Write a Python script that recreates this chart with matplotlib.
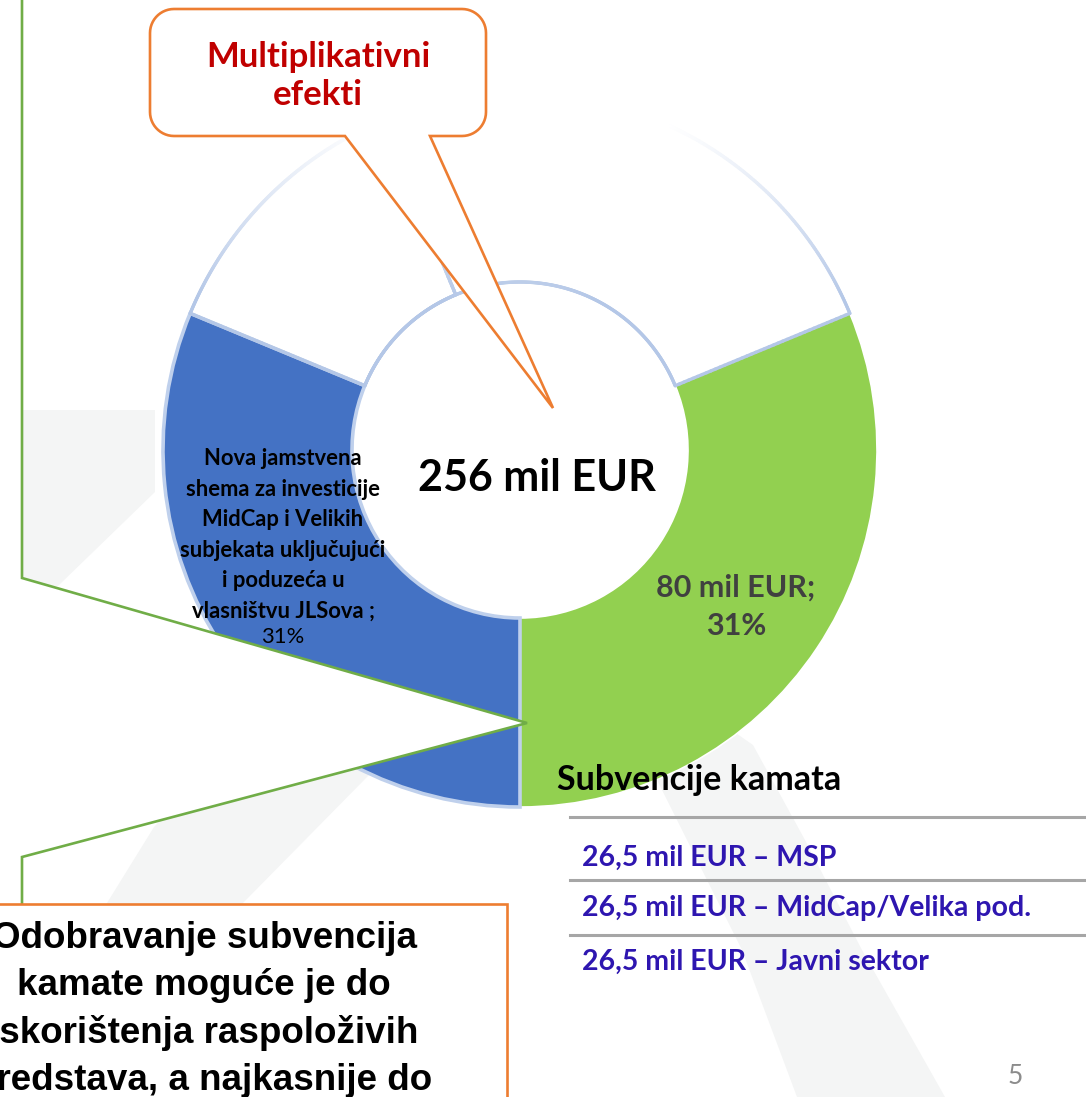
import numpy as np
import matplotlib.pyplot as plt
from matplotlib.patches import Polygon, Rectangle
from matplotlib.collections import LineCollection
from matplotlib.colors import to_rgb

# slide size in pixels
W, H = 1086, 1097

# donut: mil EUR, counter-clockwise from 6 o'clock
donut_names = ['Subvencije kamata', 'ostalo 1', 'ostalo 2',
               'Nova jamstvena\nshema za investicije\nMidCap i Velikih\nsubjekata uključujući\ni poduzeća u\nvlasništvu JLSova']
donut_values = [80, 64, 32, 80]
donut_colors = ['#92D050', '#FFFFFF', '#FFFFFF', '#4472C4']

# interest subsidy table
subsidy_amounts = ['26,5', '26,5', '26,5']
subsidy_groups = ['MSP', 'MidCap/Velika pod.', 'Javni sektor']

callout_top = 'Multiplikativni\nefekti'
note_lines = ['Odobravanje subvencija', 'kamate moguće je do',
              'iskorištenja raspoloživih', 'sredstava, a najkasnije do']
page_no = '5'

EDGE = '#B4C7E7'
ORANGE = '#ED7D31'
GREEN_LINE = '#70AD47'
WM = '#F4F5F5'


def py(y):
    # pixel row (from top) -> data y
    return H - y


def pts(seq):
    return [(x, py(y)) for x, y in seq]


fig = plt.figure(figsize=(W / 100, H / 100), dpi=100)
ax = fig.add_axes([0, 0, 1, 1])

# faint watermark shapes behind everything
ax.add_patch(Polygon(pts([(22, 410), (155, 410), (155, 492), (58, 586), (22, 586)]),
                     closed=True, fc=WM, ec='none', zorder=0))
band = [(60, 1000), (107, 903), (154, 827), (230, 745), (360, 680), (520, 650),
        (660, 680), (753, 745), (805, 840), (862, 950), (945, 1097),
        (797, 1097), (742, 950), (692, 850), (647, 760), (560, 720),
        (450, 730), (371, 773), (243, 903), (200, 1000)]
ax.add_patch(Polygon(pts(band), closed=True, fc=WM, ec='none', zorder=0))

# donut
cx, cy = 520, py(450)
r_out, r_in = 357, 168
wedges, _ = ax.pie(donut_values, colors=donut_colors, startangle=-90, counterclock=True,
                   center=(cx, cy), radius=r_out, frame=True,
                   wedgeprops=dict(width=r_out - r_in, linewidth=0))
for w in wedges:
    w.set_zorder(2)
wedges[0].set_edgecolor('white')
wedges[0].set_linewidth(1.2)
wedges[3].set_edgecolor('#BFD0EC')
wedges[3].set_linewidth(2.6)


def outline(w, n=240):
    t = np.radians(np.linspace(w.theta1, w.theta2, n))
    ri = w.r - w.width
    outer = np.c_[w.center[0] + w.r * np.cos(t), w.center[1] + w.r * np.sin(t)]
    inner = np.c_[w.center[0] + ri * np.cos(t[::-1]), w.center[1] + ri * np.sin(t[::-1])]
    s = np.linspace(0, 1, 40)[:, None]
    rad1 = outer[-1] + s * (inner[0] - outer[-1])
    rad2 = inner[-1] + s * (outer[0] - inner[-1])
    return np.vstack([outer, rad1, inner, rad2])


# white slices: light blue outline fading out towards the top
edge_rgb = np.array(to_rgb(EDGE))
for w in wedges[1:3]:
    p = outline(w)
    segs = np.stack([p[:-1], p[1:]], axis=1)
    ymid = H - segs[:, :, 1].mean(axis=1)
    f = np.clip((ymid - 125) / 175, 0, 1)[:, None]
    cols = (1 - f) * np.ones(3) + f * edge_rgb
    ax.add_collection(LineCollection(segs, colors=cols, linewidths=2.4, zorder=3,
                                     capstyle='round'))

total = sum(donut_values)
pct = [round(v / total * 100) for v in donut_values]

ax.text(537, py(478), f'{total} mil EUR', ha='center', va='center', fontsize=31,
        fontweight='bold', family='Lato', color='black', zorder=6)
ax.text(736, py(607), f'{donut_values[0]} mil EUR;\n{pct[0]}%', ha='center', va='center',
        fontsize=22, fontweight='bold', family='Lato', color='#404040',
        linespacing=1.45, zorder=6)
ax.text(283, py(535), donut_names[3] + ' ;', ha='center', va='center', fontsize=15.8,
        fontweight='bold', family='Lato', color='black', linespacing=1.56, zorder=6)
ax.text(283, py(637), f'{pct[3]}%', ha='center', va='center', fontsize=15.8,
        family='Lato', color='black', zorder=6)

# top callout (rounded box with pointer)
x0, y0, x1, y1, rr = 150, 9, 486, 136, 24


def corner(xc, yc, a0, a1):
    a = np.radians(np.linspace(a0, a1, 14))
    return [(xc + rr * np.cos(a), yc + rr * np.sin(a)) for a in a]


box = (corner(x0 + rr, y0 + rr, 180, 270) + corner(x1 - rr, y0 + rr, 270, 360)
       + corner(x1 - rr, y1 - rr, 0, 90) + [(430, y1), (553, 408), (345, y1)]
       + corner(x0 + rr, y1 - rr, 90, 180))
ax.add_patch(Polygon(pts(box), closed=True, fc='white', ec=ORANGE, lw=1.9, zorder=7,
                     joinstyle='miter'))
ax.text(318, py(76), callout_top, ha='center', va='center', fontsize=25,
        fontweight='bold', family='Lato', color='#C00000', linespacing=1.2, zorder=8)

# left green callout pointing to the donut
tip = (527, 723)
ax.add_patch(Polygon(pts([(22, 578), tip, (22, 857)]), closed=True, fc='white',
                     ec='none', zorder=4))
ax.plot(*zip(*pts([(22, -5), (22, 578), tip, (22, 857), (22, 905)])),
        color=GREEN_LINE, lw=1.9, zorder=5, solid_joinstyle='miter')

# bottom-left note box (its left part runs off the slide)
ax.add_patch(Rectangle((-20, py(1120)), 527, 1120 - 904, fc='white', ec=ORANGE,
                       lw=1.9, zorder=7))
for i, line in enumerate(note_lines):
    ax.text(204, py(938 + 47.5 * i), line, ha='center', va='center', fontsize=26.5,
            fontweight='bold', family='Liberation Sans', color='black', zorder=8)

# interest subsidy block
ax.text(557, py(780), 'Subvencije kamata', ha='left', va='center', fontsize=24.5,
        fontweight='bold', family='Lato', color='black', zorder=6)
for yl in (817, 880, 935):
    ax.plot([570, W + 5], [py(yl), py(yl)], color='#A6A6A6', lw=2.2, zorder=5)
row_y = [858, 908, 962]
for yr, amt, grp in zip(row_y, subsidy_amounts, subsidy_groups):
    ax.text(582, py(yr), f'{amt} mil EUR – {grp}', ha='left', va='center',
            fontsize=20.5, fontweight='bold', family='Lato', color='#2E16B0', zorder=6)

ax.text(1015, py(1077), page_no, ha='center', va='center', fontsize=19,
        family='Lato', color='#8C8C8C', zorder=6)

ax.set_xlim(0, W)
ax.set_ylim(0, H)
ax.set_aspect('equal')
ax.axis('off')
fig.savefig('out.png', dpi=100)
